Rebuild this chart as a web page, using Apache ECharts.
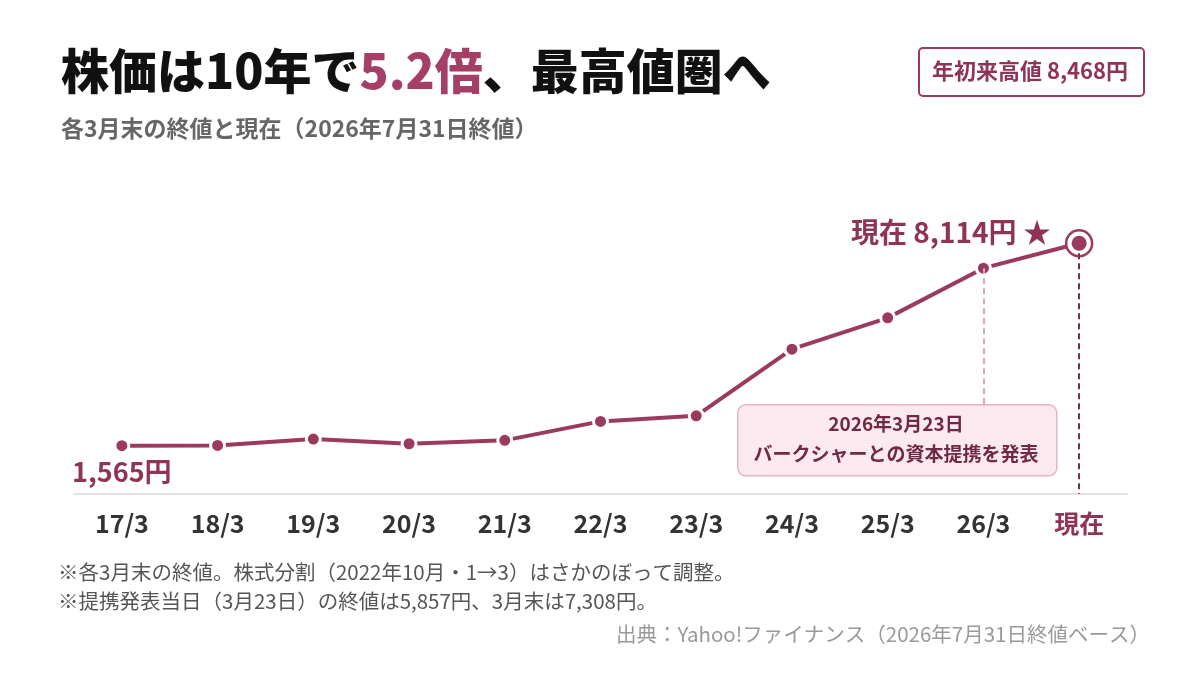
<!DOCTYPE html>
<html>
<head>
<meta charset="utf-8">
<script src="https://cdn.jsdelivr.net/npm/echarts@6/dist/echarts.min.js"></script>
<style>
  html, body { margin: 0; padding: 0; background: #fff; }
  #chart-container { width: 1200px; height: 680px; }
</style>
</head>
<body>
<div id="chart-container"></div>
<script>
// data
var categories = ["17/3", "18/3", "19/3", "20/3", "21/3", "22/3", "23/3", "24/3", "25/3", "26/3", "現在"];
var closePrices = [1565, 1571, 1778, 1626, 1736, 2350, 2531, 4688, 5700, 7308, 8114];
var eventIndex = 9;        // 26/3: the alliance was announced in that month
var eventBoxBottom = 2900; // value where the dashed guide meets the note box

var accent = "#9b3a5f";
var accentText = "#8e3457";
var font = "'Noto Sans CJK JP', 'Noto Sans', sans-serif";

var lastIndex = closePrices.length - 1;

function yen(v) {
  return v.toLocaleString("en-US") + "円";
}

var chartDom = document.getElementById("chart-container");
var myChart = echarts.init(chartDom);

var lineData = closePrices.map(function (v, i) {
  var item = { value: v };
  if (i === 0) {
    item.label = {
      show: true,
      position: "bottom",
      distance: 4,
      formatter: yen(v),
      color: accentText,
      fontSize: 27,
      fontWeight: "bold",
      fontFamily: font
    };
  }
  if (i === lastIndex) {
    item.symbolSize = 0;
  }
  return item;
});

var option = {
  animation: false,
  title: {
    left: 56,
    top: 42,
    text: "{a|株価は10年で}{b|5.2倍}{a|、最高値圏へ}",
    textStyle: {
      rich: {
        a: { fontSize: 48, fontWeight: 900, color: "#111", fontFamily: font },
        b: { fontSize: 48, fontWeight: 900, color: "#a53f67", fontFamily: font }
      }
    },
    subtext: "各3月末の終値と現在（2026年7月31日終値）",
    itemGap: 22,
    subtextStyle: {
      fontSize: 23,
      fontWeight: "bold",
      color: "#666",
      fontFamily: font
    }
  },
  grid: {
    left: 74,
    right: 73,
    top: 185,
    bottom: 186
  },
  xAxis: {
    type: "category",
    data: categories,
    boundaryGap: true,
    axisLine: { lineStyle: { color: "#e2e2e2", width: 2 } },
    axisTick: { show: false },
    axisLabel: {
      margin: 17,
      fontSize: 25,
      fontWeight: "bold",
      fontFamily: font,
      color: function (value, index) {
        return index === lastIndex ? accentText : "#333";
      }
    }
  },
  yAxis: {
    type: "value",
    min: 0,
    max: 10000,
    show: false
  },
  series: [
    {
      type: "line",
      data: lineData,
      z: 3,
      symbol: "circle",
      symbolSize: 14,
      lineStyle: { color: accent, width: 4 },
      itemStyle: { color: accent, borderColor: "#fff", borderWidth: 3 },
      markLine: {
        silent: true,
        symbol: ["none", "none"],
        label: { show: false },
        data: [
          [
            { coord: [eventIndex, closePrices[eventIndex]], lineStyle: { color: "#d9a9ba", type: [6, 4], width: 2 } },
            { coord: [eventIndex, eventBoxBottom] }
          ],
          [
            { coord: [lastIndex, closePrices[lastIndex]], lineStyle: { color: "#7b2e4b", type: [6, 4], width: 2 } },
            { coord: [lastIndex, 0] }
          ]
        ]
      }
    },
    {
      // ring around the latest close
      type: "scatter",
      z: 4,
      data: [[lastIndex, closePrices[lastIndex]]],
      symbol: "circle",
      symbolSize: 26,
      itemStyle: { color: "#fff", borderColor: accent, borderWidth: 2.5, opacity: 1 },
      label: {
        show: true,
        position: "left",
        distance: 14,
        offset: [0, -11],
        formatter: "現在 " + yen(closePrices[lastIndex]) + " ★",
        color: accentText,
        fontSize: 28,
        fontWeight: "bold",
        fontFamily: font
      }
    },
    {
      type: "scatter",
      z: 5,
      data: [[lastIndex, closePrices[lastIndex]]],
      symbol: "circle",
      symbolSize: 15,
      itemStyle: { color: accent, opacity: 1 }
    }
  ],
  graphic: [
    {
      type: "rect",
      left: 918,
      top: 47,
      shape: { width: 225, height: 48, r: 4 },
      style: { fill: "#fff", stroke: accent, lineWidth: 2 }
    },
    {
      type: "text",
      x: 1030,
      y: 71,
      style: {
        text: "年初来高値 8,468円",
        align: "center",
        verticalAlign: "middle",
        fontSize: 22,
        fontWeight: "bold",
        fill: accentText,
        fontFamily: font
      }
    },
    {
      type: "rect",
      left: 737,
      top: 404,
      z: 10,
      shape: { width: 319, height: 71, r: 8 },
      style: { fill: "#fbe9ef", stroke: "#e3b6c6", lineWidth: 1.5 }
    },
    {
      type: "text",
      x: 896,
      y: 439,
      z: 11,
      style: {
        text: "2026年3月23日\nバークシャーとの資本提携を発表",
        align: "center",
        verticalAlign: "middle",
        lineHeight: 30,
        fontSize: 19,
        fontWeight: "bold",
        fill: "#6e2a44",
        fontFamily: font
      }
    },
    {
      type: "text",
      left: 58,
      top: 558,
      style: {
        text: "※各3月末の終値。株式分割（2022年10月・1→3）はさかのぼって調整。\n※提携発表当日（3月23日）の終値は5,857円、3月末は7,308円。",
        lineHeight: 29,
        fontSize: 20.5,
        fill: "#555",
        fontFamily: font
      }
    },
    {
      type: "text",
      right: 50,
      top: 624,
      style: {
        text: "出典：Yahoo!ファイナンス（2026年7月31日終値ベース）",
        fontSize: 20.5,
        fill: "#999",
        fontFamily: font
      }
    }
  ]
};

myChart.setOption(option);
</script>
</body>
</html>
